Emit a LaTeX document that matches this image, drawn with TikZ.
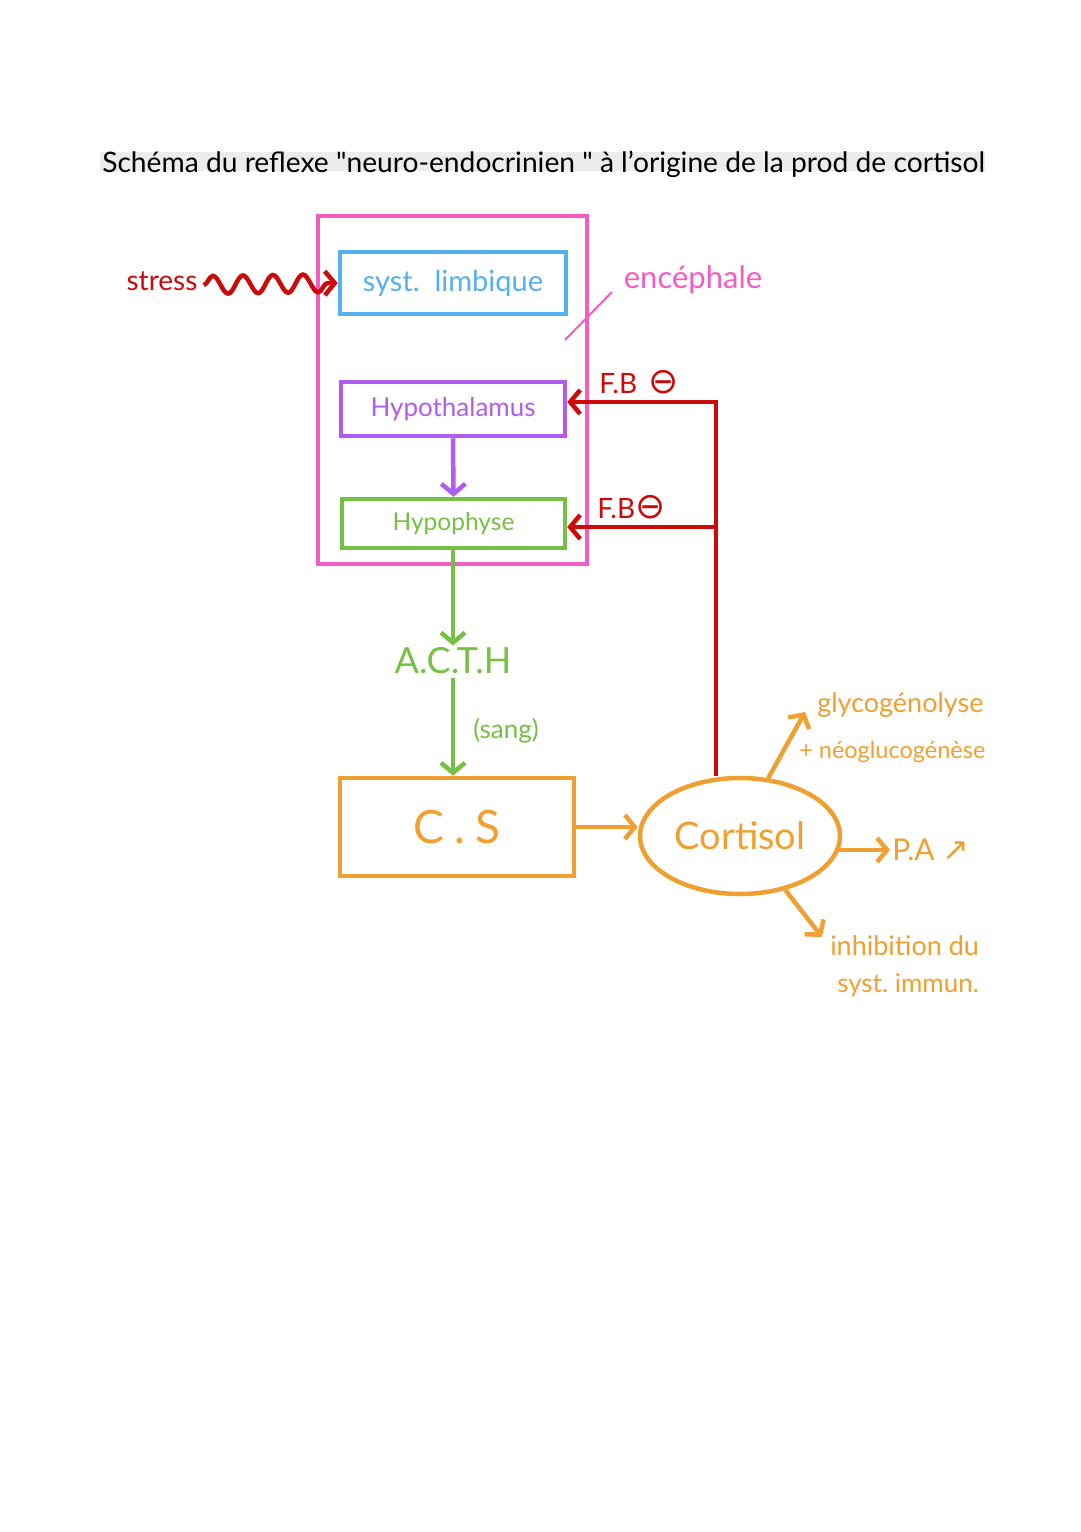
\documentclass[tikz,border=0pt]{standalone}
\usepackage{fontspec}
\setmainfont{Lato}
\newfontfamily\djv{DejaVu Sans}
\usetikzlibrary{arrows.meta,decorations.pathmorphing,shapes.geometric}
\definecolor{cred}{HTML}{CC0A0A}
\definecolor{cpink}{HTML}{F35CC3}
\definecolor{cblue}{HTML}{55B0F0}
\definecolor{cpurple}{HTML}{B25BF0}
\definecolor{cgreen}{HTML}{76C043}
\definecolor{corange}{HTML}{F0A030}
\newcommand{\fs}[1]{\fontsize{#1}{#1}\selectfont}
\begin{document}
\begin{tikzpicture}[x=1pt,y=-1pt,line width=4.5pt,
  box/.style={draw,line width=4.5pt,inner sep=0pt,rectangle},
  tip/.style={-{Straight Barb[length=10pt,width=24pt,line width=4.5pt]}},
  lbl/.style={inner sep=0pt,anchor=base west}]
\useasboundingbox (0,0) rectangle (1080,1532);
\fill[white] (0,0) rectangle (1080,1532);
% title
\fill[gray!15] (100,152) rectangle (985,171);
\node[lbl] (title) at (100,172) {\fs{28.2}Schéma du reflexe \textquotedbl neuro-endocrinien \textquotedbl\ à l'origine de la prod de cortisol};
% boxes
\node[box,draw=cpink,minimum width=269pt,minimum height=348pt] (enc) at (452.5,390) {};
\node[box,draw=cblue,minimum width=226pt,minimum height=62pt,text=cblue] (lim) at (453,283) {\fs{29}syst.\ \ limbique};
\node[box,draw=cpurple,minimum width=224pt,minimum height=54pt,text=cpurple] (hyp) at (453,409) {\fs{26}Hypothalamus};
\node[box,draw=cgreen,minimum width=223pt,minimum height=49pt,text=cgreen] (pit) at (453.5,523.5) {\fs{24.5}Hypophyse};
\node[box,draw=corange,minimum width=234pt,minimum height=98pt,text=corange] (cs) at (457,827) {\fs{46}C\hspace{10pt}.\hspace{10pt}S};
\node[ellipse,draw=corange,line width=4.5pt,inner sep=0pt,minimum width=200pt,minimum height=116pt,text=corange] (cort) at (740,836) {\fs{38}Cortisol};
% stress
\node[inner sep=0pt,text=cred] (stress) at (162,281) {\fs{28}stress};
\draw[cred,tip,decorate,decoration={snake,amplitude=9pt,segment length=30pt,post length=10pt}] (stress.east) ++(4,4) coordinate (sw) -- (lim.west);
% encephale
\node[inner sep=0pt,text=cpink] (encl) at (693,280) {\fs{31}encéphale};
\coordinate (sl1) at (565,340);
\coordinate (sl2) at (612,292);
\draw[cpink,line width=2pt] (sl1) -- (sl2);
% hypothalamus -> hypophyse
\draw[cpurple,tip] (hyp.south) -- (pit.north);
% ACTH
\node[inner sep=0pt,text=cgreen] (acth) at (453,661) {\fs{36}A.C.T.H};
\draw[cgreen,tip] (pit.south -| acth) -- (acth.north);
\draw[cgreen,tip] ([yshift=-2pt]acth.south) -- (cs.north -| acth) node[midway,right=18pt,yshift=-4pt,text=cgreen,inner sep=0pt] {\fs{26}(sang)};
% cs -> cortisol
\draw[corange,tip] (cs.east) -- (cs.east -| cort.west);
% feedback
\coordinate (fbtop) at (716,402);
\coordinate (fbmid) at (716,527);
\draw[cred,tip] (cort.north -| fbtop) -- (fbtop) -- (fbtop -| hyp.east);
\draw[cred,tip] (fbmid) -- (fbmid -| pit.east);
\node[lbl,text=cred] (fb1) at (597,393) {\fs{28}F.B\, {\djv\fs{36}⊖}};
\node[lbl,text=cred] (fb2) at (595,518) {\fs{28}F.B{\djv\fs{36}⊖}};
% effects
\coordinate (g1) at (805,712);
\draw[corange,tip] (cort.64) -- (g1);
\node[lbl,text=corange] (glyco) at (815,712) {\fs{27}glycogénolyse};
\node[lbl,text=corange] (neo) at (797,758) {\fs{23.5}+ néoglucogénèse};
\node[lbl,text=corange] (pa) at (890,860) {\fs{30}P.A {\djv\fs{32}↗}};
\draw[corange,tip] (cort.-8) -- (cort.-8 -| pa.west);
\coordinate (i1) at (822,937);
\draw[corange,tip] (cort.-50) -- (i1);
\node[lbl,text=corange] (inh) at (828,955) {\fs{27}inhibition du};
\node[lbl,text=corange] (imm) at (835,992) {\fs{26}syst.\ immun.};
\end{tikzpicture}
\end{document}
